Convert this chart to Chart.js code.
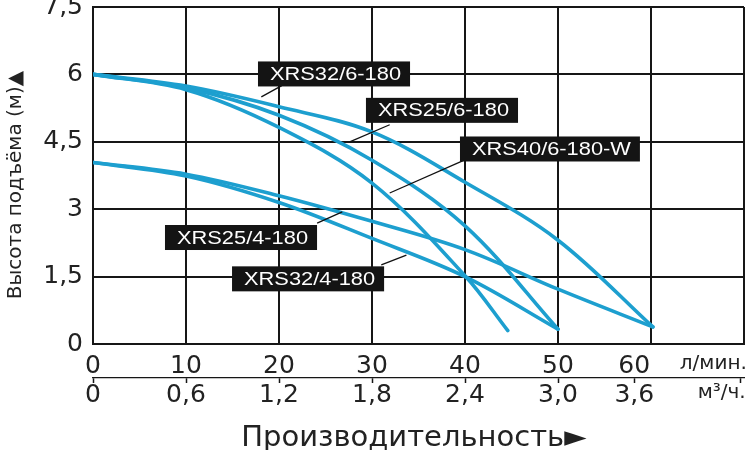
<!DOCTYPE html>
<html>
<head>
<meta charset="utf-8">
<script src="https://cdn.jsdelivr.net/npm/chart.js@4/dist/chart.umd.min.js"></script>
<style>
  html, body { margin: 0; padding: 0; background: #fff; }
  #wrap { width: 750px; height: 450px; }
</style>
</head>
<body>
<div id="wrap"><canvas id="pumpChart" width="750" height="450"></canvas></div>
<script>
// pump curves: flow (grid units, 10 per cell) vs head (m)
const xrs32_6_flow = [0, 10, 20, 30, 40, 50, 60.2];
const xrs32_6_head = [6, 5.74, 5.28, 4.72, 3.6, 2.31, 0.38];
const xrs25_6_flow = [0, 10, 20, 30, 40, 50];
const xrs25_6_head = [6, 5.7, 5.09, 4.09, 2.63, 0.33];
const xrs40_6_flow = [0, 10, 20, 30, 40, 44.6];
const xrs40_6_head = [6, 5.66, 4.82, 3.58, 1.52, 0.3];
const xrs32_4_flow = [0, 10, 20, 30, 40, 50];
const xrs32_4_head = [4.04, 3.74, 3.15, 2.35, 1.5, 0.33];
const xrs25_4_flow = [0, 10, 20, 30, 40, 50, 60.2];
const xrs25_4_head = [4.04, 3.78, 3.3, 2.73, 2.1, 1.22, 0.38];

// axis ticks
const yTicks = [0, 1.5, 3, 4.5, 6, 7.5];
const yTickLabels = ['0', '1,5', '3', '4,5', '6', '7,5'];
const lpmTickAt = [0, 10, 20, 30, 40, 50, 58.2, 66.7];
const lpmTickLabels = ['0', '10', '20', '30', '40', '50', '60', 'л/мин.'];
const m3hTickAt = [0, 10, 20, 30, 40, 50, 58.2, 67.6, 69.6];
const m3hTickLabels = ['0', '0,6', '1,2', '1,8', '2,4', '3,0', '3,6', 'м³/ч.', ''];

// callout labels
const labelTexts = ['XRS32/6-180', 'XRS25/6-180', 'XRS40/6-180-W', 'XRS25/4-180', 'XRS32/4-180'];
const labelAt = [[17.74, 6.01], [29.35, 5.2], [39.46, 4.34], [7.74, 2.37], [14.95, 1.45]];
const leaderFrom = [[18.1, 5.5], [27.6, 4.5], [31.9, 3.36], [26.8, 2.94], [33.7, 1.98]];
const leaderTo = [[20.3, 5.75], [31.9, 4.88], [39.8, 4.08], [24.1, 2.69], [31.0, 1.76]];

const lineColor = '#1d9fcf';
const gridColor = '#161616';
const textColor = '#222';
const tickFont = { family: 'DejaVu Sans', size: 25, lineHeight: 1 };
const unitFont = { family: 'DejaVu Sans', size: 20, lineHeight: 1 };

function toPoints(xs, ys) {
  return xs.map((v, i) => ({ x: v, y: ys[i] }));
}

function curve(xs, ys) {
  return {
    data: toPoints(xs, ys),
    borderColor: lineColor,
    borderWidth: 3.6,
    borderCapStyle: 'round',
    pointRadius: 0,
    fill: false,
    tension: 0.35
  };
}

const calloutPlugin = {
  id: 'callouts',
  afterDatasetsDraw(chart) {
    const { ctx } = chart;
    const x = chart.scales.x, y = chart.scales.y;
    ctx.save();
    labelTexts.forEach((text, i) => {
      ctx.strokeStyle = '#111';
      ctx.lineWidth = 1.3;
      ctx.beginPath();
      ctx.moveTo(x.getPixelForValue(leaderFrom[i][0]), y.getPixelForValue(leaderFrom[i][1]));
      ctx.lineTo(x.getPixelForValue(leaderTo[i][0]), y.getPixelForValue(leaderTo[i][1]));
      ctx.stroke();

      ctx.font = '18.5px "Liberation Sans"';
      const w = ctx.measureText(text).width * 1.18 + 21;
      const left = x.getPixelForValue(labelAt[i][0]);
      const mid = y.getPixelForValue(labelAt[i][1]);
      ctx.fillStyle = '#141414';
      ctx.fillRect(left, mid - 12.5, w, 25);
      ctx.save();
      ctx.translate(left + 12, mid + 1);
      ctx.scale(1.18, 1);
      ctx.fillStyle = '#fff';
      ctx.textBaseline = 'middle';
      ctx.fillText(text, 0, 0);
      ctx.restore();
    });
    ctx.restore();
  }
};

new Chart(document.getElementById('pumpChart'), {
  type: 'line',
  data: {
    datasets: [
      curve(xrs32_6_flow, xrs32_6_head),
      curve(xrs25_6_flow, xrs25_6_head),
      curve(xrs40_6_flow, xrs40_6_head),
      curve(xrs32_4_flow, xrs32_4_head),
      curve(xrs25_4_flow, xrs25_4_head)
    ]
  },
  options: {
    responsive: false,
    animation: false,
    events: [],
    layout: { padding: { top: 7, right: 6, left: 0, bottom: 0 } },
    plugins: { legend: { display: false }, tooltip: { enabled: false } },
    scales: {
      x: {
        type: 'linear', min: 0, max: 70, position: 'bottom', weight: 0,
        ticks: { display: false, stepSize: 10 },
        grid: { color: gridColor, lineWidth: 2, drawTicks: false },
        border: { display: true, color: gridColor, width: 2 },
        afterFit: s => { s.height = 0; s.paddingLeft = 0; s.paddingRight = 0; }
      },
      xl: {
        type: 'linear', min: 0, max: 70, position: 'bottom', weight: 1,
        grid: { display: false },
        border: { display: false },
        afterBuildTicks: s => { s.ticks = lpmTickAt.map(v => ({ value: v })); },
        ticks: {
          autoSkip: false, maxRotation: 0, padding: 1.5, color: textColor,
          font: c => (c.index === lpmTickLabels.length - 1 ? unitFont : tickFont),
          callback: (v, i) => lpmTickLabels[i]
        },
        afterFit: s => { s.height = 34; s.paddingLeft = 0; s.paddingRight = 0; }
      },
      xm: {
        type: 'linear', min: 0, max: 70, position: 'bottom', weight: 2,
        grid: {
          drawOnChartArea: false, drawTicks: true, tickLength: 5, tickWidth: 1.5,
          color: gridColor,
          tickColor: c => (m3hTickLabels[c.index] && m3hTickLabels[c.index].length > 3 ? 'rgba(0,0,0,0)' : gridColor)
        },
        border: { display: true, color: gridColor, width: 1.3 },
        afterBuildTicks: s => { s.ticks = m3hTickAt.map(v => ({ value: v })); },
        ticks: {
          autoSkip: false, maxRotation: 0, padding: 0, color: textColor,
          font: c => (c.index === 7 ? unitFont : tickFont),
          callback: (v, i) => m3hTickLabels[i]
        },
        title: {
          display: true, text: 'Производительность► ', color: textColor,
          font: { family: 'DejaVu Sans', size: 29, lineHeight: 1 },
          padding: { top: 0, bottom: -3 }
        },
        afterFit: s => { s.height = 72; s.paddingLeft = 0; s.paddingRight = 0; }
      },
      y: {
        type: 'linear', min: 0, max: 7.5, position: 'left',
        afterBuildTicks: s => { s.ticks = yTicks.map(v => ({ value: v })); },
        ticks: { padding: 10, color: textColor, font: tickFont, callback: (v, i) => yTickLabels[i] },
        grid: { color: gridColor, lineWidth: 2, drawTicks: false },
        border: { display: true, color: gridColor, width: 2 },
        title: {
          display: true, text: 'Высота подъёма (м)▲   ', color: textColor,
          font: { family: 'DejaVu Sans', size: 20, lineHeight: 1 },
          padding: { top: 6, bottom: 0 }
        },
        afterFit: s => { s.width = 93; s.paddingTop = 0; s.paddingBottom = 0; }
      }
    }
  },
  plugins: [calloutPlugin]
});
</script>
</body>
</html>
